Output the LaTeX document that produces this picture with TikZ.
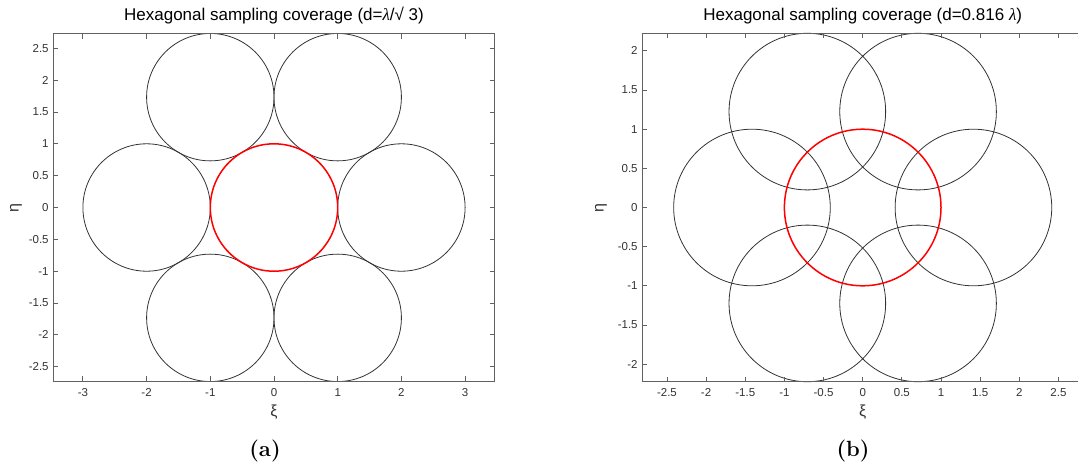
\documentclass[tikz,border=0pt]{standalone}
\usepackage{fontspec}
\newfontfamily\arial{Liberation Sans}
\newfontfamily\symf{Liberation Serif}
\begin{document}
\begin{tikzpicture}[x=1pt,y=-1pt,
  ax/.style={draw=black!62, line width=0.9pt},
  circ/.style={draw=black!80, line width=0.8pt},
  redc/.style={draw=red, line width=1.5pt},
  ticklab/.style={font=\arial\fontsize{11.5}{13}\selectfont, text=black!80, inner sep=0pt},
  axlab/.style={font=\arial\fontsize{16}{18}\selectfont, text=black!80, inner sep=0pt},
  ttl/.style={font=\arial\fontsize{17}{20}\selectfont, text=black, inner sep=0pt},
  sub/.style={font=\bfseries\fontsize{22}{26}\selectfont, inner sep=0pt}
]
\useasboundingbox (0,0) rectangle (1078,469);
\clip (0,0) rectangle (1078,469);

% ---------------- (a) ----------------
\begin{scope}[shift={(274,207.5)}, x=63.7pt, y=63.7pt]
  \foreach \cx/\cy in {-2/0, 2/0, -1/1.7321, 1/1.7321, -1/-1.7321, 1/-1.7321}
    \draw[circ] (\cx,\cy) circle[radius=1];
  \draw[redc] (0,0) circle[radius=1];
  \draw[ax] (-3.464,-2.732) rectangle (3.464,2.732);
  \foreach \v in {-3,-2,-1,0,1,2,3} {
    \draw[ax] (\v,-2.732) -- ++(0,0.08);
    \draw[ax] (\v,2.732) -- ++(0,-0.08);
    \node[ticklab, anchor=north, yshift=-6.5pt] at (\v,-2.732) {\v};
  }
  \foreach \v in {-2.5,-2,-1.5,-1,-0.5,0,0.5,1,1.5,2,2.5} {
    \draw[ax] (-3.464,\v) -- ++(0.08,0);
    \draw[ax] (3.464,\v) -- ++(-0.08,0);
    \node[ticklab, anchor=east, xshift=-4.5pt] at (-3.464,\v) {\v};
  }
\end{scope}
\node[ttl] (ta) at (274,16) {Hexagonal sampling coverage (d={\symf\itshape λ}/√ 3)};
\node[axlab, rotate=90] (ya) at (16,208) {η};
\node[axlab] (xa) at (274,412) {ξ};
\node[sub] (la) at (265,451) {(a)};

% ---------------- (b) ----------------
\begin{scope}[shift={(862.7,207.5)}, x=78.3pt, y=78.3pt]
  \foreach \cx/\cy in {-1.4142/0, 1.4142/0, -0.7071/1.2247, 0.7071/1.2247, -0.7071/-1.2247, 0.7071/-1.2247}
    \draw[circ] (\cx,\cy) circle[radius=1];
  \draw[redc] (0,0) circle[radius=1];
  \draw[ax] (-2.815,-2.2247) rectangle (2.815,2.2247);
  \foreach \v in {-2.5,-2,-1.5,-1,-0.5,0,0.5,1,1.5,2,2.5} {
    \draw[ax] (\v,-2.2247) -- ++(0,0.065);
    \draw[ax] (\v,2.2247) -- ++(0,-0.065);
    \node[ticklab, anchor=north, yshift=-6.5pt] at (\v,-2.2247) {\v};
  }
  \foreach \v in {-2,-1.5,-1,-0.5,0,0.5,1,1.5,2} {
    \draw[ax] (-2.815,\v) -- ++(0.065,0);
    \draw[ax] (2.815,\v) -- ++(-0.065,0);
    \node[ticklab, anchor=east, xshift=-4.5pt] at (-2.815,\v) {\v};
  }
\end{scope}
\node[ttl] (tb) at (862.7,16) {Hexagonal sampling coverage (d=0.816 {\symf\itshape λ})};
\node[axlab, rotate=90] (yb) at (601,208) {η};
\node[axlab] (xb) at (862.7,412) {ξ};
\node[sub] (lb) at (853,451) {(b)};
\end{tikzpicture}
\end{document}
